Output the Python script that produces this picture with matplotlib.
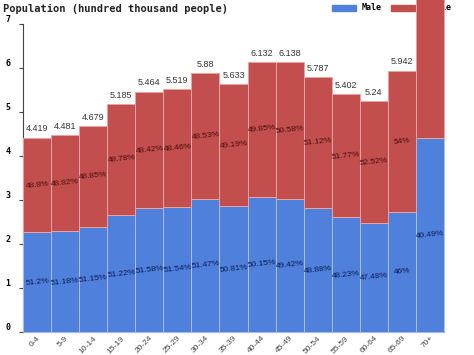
import matplotlib
matplotlib.use("Agg")
import matplotlib.pyplot as plt
from matplotlib.patches import Rectangle
import numpy as np

# age groups, totals (hundred thousand people) and shares
groups = ['0-4', '5-9', '10-14', '15-19', '20-24', '25-29', '30-34', '35-39',
          '40-44', '45-49', '50-54', '55-59', '60-64', '65-69', '70+']
totals = [4.419, 4.481, 4.679, 5.185, 5.464, 5.519, 5.88, 5.633,
          6.132, 6.138, 5.787, 5.402, 5.24, 5.942, 10.89]
male_pct = [51.2, 51.18, 51.15, 51.22, 51.58, 51.54, 51.47, 50.81,
            50.15, 49.42, 48.88, 48.23, 47.48, 46, 40.49]
female_pct = [48.8, 48.82, 48.85, 48.78, 48.42, 48.46, 48.53, 49.19,
              49.85, 50.58, 51.12, 51.77, 52.52, 54, 59.51]

blue = '#4f80dc'
red = '#c24f4e'

totals = np.array(totals)
male = totals * np.array(male_pct) / 100
female = totals - male
x = np.arange(len(groups))

fig = plt.figure(figsize=(4.74, 3.55), dpi=100)
ax = fig.add_axes([23 / 474, 23 / 355, 421 / 474, 308 / 355])

ax.bar(x, male, width=1, color=blue, edgecolor='#a9c0f0', linewidth=0.7,
       zorder=3, clip_on=False)
ax.bar(x, female, width=1, bottom=male, color=red, edgecolor='#eba3a3',
       linewidth=0.7, zorder=3, clip_on=False)

for i in range(len(groups)):
    ax.annotate(f'{totals[i]:g}', (x[i], totals[i]), xytext=(0, 3),
                textcoords='offset points', ha='center', va='bottom',
                fontsize=6.5, color='#333333', family='Liberation Sans',
                zorder=4, annotation_clip=False)
    ax.text(x[i], male[i] / 2, f'{male_pct[i]:g}%', ha='center', va='center',
            rotation=6, fontsize=6, color='#0c1c55', family='Liberation Sans',
            zorder=4, clip_on=False)
    ax.text(x[i], male[i] + female[i] / 2, f'{female_pct[i]:g}%', ha='center',
            va='center', rotation=6, fontsize=6, color='#4a0d0d',
            family='Liberation Sans', zorder=4, clip_on=False)

ax.set_xlim(-0.5, len(groups) - 0.5)
ax.set_ylim(0, 7)
ax.set_yticks(range(8))
ax.set_yticklabels([str(v) for v in range(8)], fontsize=6,
                   family='DejaVu Sans Mono', fontweight='bold')
for lab in ax.get_yticklabels():
    lab.set_va('bottom')
ax.tick_params(axis='y', length=3, pad=6, color='#444444')
ax.set_xticks(x)
ax.set_xticklabels(groups, rotation=45, ha='right', rotation_mode='anchor',
                   fontsize=6, color='#444444', family='Liberation Sans')
ax.tick_params(axis='x', length=0, pad=2)

ax.spines['top'].set_visible(False)
ax.spines['right'].set_color('#aaaaaa')
ax.spines['left'].set_color('#444444')
ax.spines['bottom'].set_color('#444444')
ax.patch.set_visible(False)

fig.text(3 / 474, 1 - 9 / 355, 'Population (hundred thousand people)',
         fontsize=7.5, family='DejaVu Sans Mono', fontweight='bold',
         va='center', ha='left', color='#222222')

# legend, drawn underneath the tall last bar
tr = ax.transAxes
def ax_pt(px, py):
    return ((px - 23) / 421, (332 - py) / 308)
for (px, col, name) in [(332, blue, 'Male'), (391, red, 'Female')]:
    x0, y0 = ax_pt(px, 11)
    ax.add_patch(Rectangle((x0, y0), 24 / 421, 6 / 308, transform=tr,
                           color=col, clip_on=False, zorder=1))
    tx, ty = ax_pt(px + 30, 7)
    ax.text(tx, ty, name, transform=tr, fontsize=6, family='DejaVu Sans Mono',
            fontweight='bold', va='center', ha='left', clip_on=False, zorder=1)

fig.savefig('out.png', dpi=100)
